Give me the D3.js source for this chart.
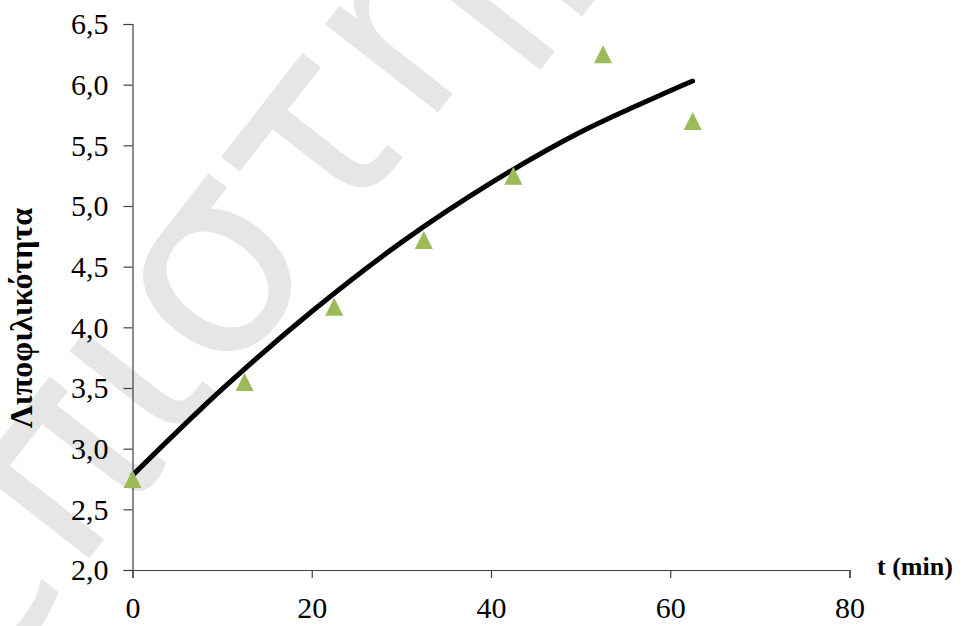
<!DOCTYPE html>
<html><head><meta charset="utf-8">
<script src="https://cdn.jsdelivr.net/npm/d3@7"></script>
<style>body{margin:0;background:#fff}svg{display:block}</style>
</head><body>
<svg id="c" width="968" height="626"></svg>
<script>
const timePoints = [0, 12.5, 22.5, 32.5, 42.5, 52.5, 62.5];
const lipophilicity = [2.75, 3.55, 4.17, 4.72, 5.25, 6.25, 5.70];
const fitT = [0, 10, 20, 30, 40, 50, 60, 62.5];
const fitY = [2.78, 3.49, 4.13, 4.70, 5.19, 5.61, 5.95, 6.03];
const xTicks = [0, 20, 40, 60, 80];
const yTicks = [2.0, 2.5, 3.0, 3.5, 4.0, 4.5, 5.0, 5.5, 6.0, 6.5];
const xTitle = "t (min)";
const yTitle = "Λιποφιλικότητα";
const watermark = "επιστήμη";

const svg = d3.select("#c");
const x = d3.scaleLinear().domain([0, 80]).range([132.5, 849.5]);
const y = d3.scaleLinear().domain([2, 6.5]).range([570, 24]);
const serif = "'Liberation Serif', 'Times New Roman', serif";

// watermark
svg.append("text").attr("transform", "translate(-15,692) rotate(-52)")
  .style("font-family", "'DejaVu Sans', sans-serif").style("font-size", "262px")
  .attr("fill", "#e6e6e6").text(watermark);

const axisColor = "#404040";
const gx = svg.append("g").attr("transform", `translate(0,${y(2)})`)
  .call(d3.axisBottom(x).tickValues(xTicks).tickSize(8).tickPadding(19).tickFormat(d3.format("d")));
const gy = svg.append("g").attr("transform", `translate(${x(0)},0)`)
  .call(d3.axisLeft(y).tickValues(yTicks).tickSize(9).tickPadding(15).tickFormat(d => d3.format(".1f")(d).replace(".", ",")));
[gx, gy].forEach(g => {
  g.attr("font-family", null).attr("font-size", null);
  g.select(".domain").attr("stroke", axisColor).attr("stroke-width", 1.2);
  g.selectAll(".tick line").attr("stroke", axisColor).attr("stroke-width", 1.2);
  g.selectAll(".tick text").style("font-family", serif).style("font-size", "30px").attr("fill", "#000");
});
gy.selectAll(".tick text").attr("dy", "0.33em");

// fit curve
svg.append("path").datum(fitT.map((t, i) => [t, fitY[i]]))
  .attr("d", d3.line().x(d => x(d[0])).y(d => y(d[1])).curve(d3.curveCatmullRom))
  .attr("fill", "none").attr("stroke", "#000").attr("stroke-width", 5).attr("stroke-linecap", "round");

// markers
svg.selectAll(".pt").data(timePoints.map((t, i) => [t, lipophilicity[i]])).enter()
  .append("path").attr("class", "pt")
  .attr("transform", d => `translate(${x(d[0])},${y(d[1])})`)
  .attr("d", "M0,-9L9,9L-9,9Z").attr("fill", "#9BBB59");

// titles
svg.append("text").attr("x", 877).attr("y", 575).attr("text-anchor", "start")
  .style("font-family", serif).style("font-size", "26px").style("font-weight", "bold").text(xTitle);
svg.append("text").attr("transform", `translate(32,318) rotate(-90)`).attr("text-anchor", "middle")
  .style("font-family", serif).style("font-size", "32px").style("font-weight", "bold").text(yTitle);
</script>
</body></html>
